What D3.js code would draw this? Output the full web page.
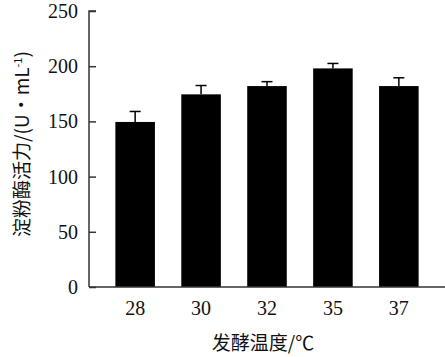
<!DOCTYPE html>
<html><head><meta charset="utf-8">
<script src="https://cdn.jsdelivr.net/npm/d3@7"></script>
<style>body{margin:0;background:#fff}svg{display:block}.num{font-family:"Liberation Serif","Times New Roman",serif;}</style>
</head><body>
<script>
const categories = ["28", "30", "32", "35", "37"];
const values = [149.5, 174.5, 182, 198, 182];
const errors = [9.5, 8, 4, 4.5, 7.5];
const yTicks = [0, 50, 100, 150, 200, 250];

const W = 445, H = 357;
const svg = d3.select("body").append("svg").attr("width", W).attr("height", H);
const x = d3.scaleBand().domain(categories).range([89, 445]).paddingInner(0.4).paddingOuter(0.4);
const y = d3.scaleLinear().domain([0, 250]).range([287, 11]);
const cjk = "Noto Sans CJK SC, sans-serif";

// bars
svg.selectAll("rect.bar").data(categories).enter().append("rect")
  .attr("x", d => x(d)).attr("width", x.bandwidth())
  .attr("y", (d, i) => y(values[i])).attr("height", (d, i) => y(0) - y(values[i]))
  .attr("fill", "#000");

// error bars
const eg = svg.append("g").attr("stroke", "#000").attr("stroke-width", 1.5);
categories.forEach((c, i) => {
  const cx = x(c) + x.bandwidth() / 2;
  eg.append("line").attr("x1", cx).attr("x2", cx).attr("y1", y(values[i])).attr("y2", y(values[i] + errors[i]));
  eg.append("line").attr("x1", cx - 5.5).attr("x2", cx + 5.5).attr("y1", y(values[i] + errors[i])).attr("y2", y(values[i] + errors[i]));
});

// y axis
const ya = svg.append("g").attr("transform", "translate(89,0)")
  .call(d3.axisRight(y).tickValues(yTicks).tickSize(7).tickFormat(""));
ya.select(".domain").attr("d", "M7," + y(250) + "H0V" + y(0)).attr("stroke", "#333").attr("stroke-width", 1.5);
ya.selectAll(".tick line").attr("stroke", "#333").attr("stroke-width", 1.5);
svg.append("g").selectAll("text").data(yTicks).enter().append("text")
  .attr("class", "num")
  .attr("x", 78).attr("y", d => y(d)).attr("dy", "0.35em").attr("text-anchor", "end")
  .style("font-size", "20px").attr("fill", "#111").text(d => d);

// x axis
const xa = svg.append("g").attr("transform", "translate(0,287)")
  .call(d3.axisBottom(x).tickSize(0).tickPadding(0));
xa.attr("font-family", null).attr("font-size", null);
xa.select(".domain").attr("d", "M89,0H445").attr("stroke", "#333").attr("stroke-width", 1.5);
xa.selectAll(".tick text").attr("class", "num").attr("y", 28).attr("dy", 0)
  .style("font-size", "20px").attr("fill", "#111");

// titles
svg.append("text").attr("x", 263).attr("y", 350).attr("text-anchor", "middle")
  .style("font-family", cjk).style("font-size", "19px").attr("fill", "#111").text("发酵温度/℃");
svg.append("text").attr("transform", "translate(29,144) rotate(-90)").attr("text-anchor", "middle")
  .style("font-family", cjk).style("font-size", "19px").attr("fill", "#111")
  .html("淀粉酶活力/(U·mL<tspan dy='-7' font-size='11'>-1</tspan><tspan dy='7'>)</tspan>");
</script>
</body></html>
